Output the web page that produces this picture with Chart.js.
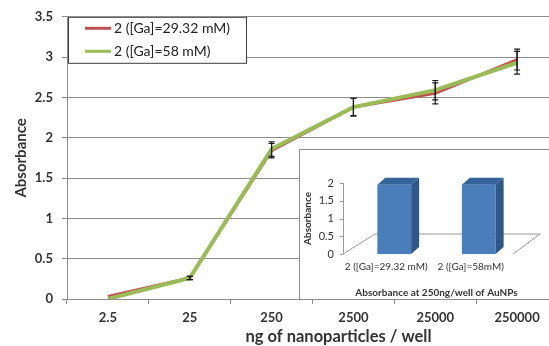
<!DOCTYPE html>
<html>
<head>
<meta charset="utf-8">
<script src="https://cdn.jsdelivr.net/npm/chart.js@4.4.0/dist/chart.umd.min.js"></script>
<style>
  html, body { margin: 0; padding: 0; background: #fff; overflow: hidden; }
  #wrap { position: relative; width: 549px; height: 346px; overflow: hidden; }
  #main { position: absolute; left: 0; top: 0; }
  #inset { position: absolute; left: 299px; top: 149px; width: 270px; height: 151px; border: 1px solid #8c8c8c; box-sizing: border-box; background: #fff; }
  #insetChart { position: absolute; left: 0; top: 0; }
</style>
</head>
<body>
<div id="wrap">
  <canvas id="main" width="560" height="346"></canvas>
  <div id="inset"><canvas id="insetChart" width="268" height="149"></canvas></div>
</div>
<script>
// main chart data
const categories = ['2.5', '25', '250', '2500', '25000', '250000'];
const gaLow = [0.03, 0.26, 1.84, 2.38, 2.55, 2.97];   // [Ga]=29.32 mM
const gaHigh = [0.0, 0.26, 1.86, 2.38, 2.59, 2.93];   // [Ga]=58 mM
const gaLowErr = [0, 0.02, 0.09, 0.11, 0.13, 0.13];
const gaHighErr = [0, 0.02, 0.09, 0.11, 0.12, 0.14];
const yMax = 3.5;
const yStep = 0.5;
const xTitle = 'ng of nanoparticles / well';

// inset data
const insetLabels = ['2 ([Ga]=29.32 mM)', '2 ([Ga]=58mM)'];
const insetValues = [1.95, 1.95];
const insetMax = 2;

const FONT = 'Lato, "Open Sans", sans-serif';
const TEXT = '#333333';
const GRID = '#8c8c8c';
Chart.defaults.font.family = FONT;
Chart.defaults.color = TEXT;

// plain number labels: 0, 0.5, 1, 1.5 ...
const plainTick = v => String(+v.toFixed(2));

// error bars drawn from dataset.errors
const errorBars = {
    id: 'errorBars',
    afterDatasetsDraw(chart) {
        const ctx = chart.ctx;
        const y = chart.scales.y;
        ctx.save();
        ctx.strokeStyle = '#1a1a1a';
        ctx.lineWidth = 1.2;
        chart.data.datasets.forEach((ds, i) => {
            if (!ds.errors) return;
            chart.getDatasetMeta(i).data.forEach((pt, j) => {
                const e = ds.errors[j];
                if (!e) return;
                const top = y.getPixelForValue(ds.data[j] + e);
                const bot = y.getPixelForValue(ds.data[j] - e);
                ctx.beginPath();
                ctx.moveTo(pt.x, top); ctx.lineTo(pt.x, bot);
                ctx.moveTo(pt.x - 3, top); ctx.lineTo(pt.x + 3, top);
                ctx.moveTo(pt.x - 3, bot); ctx.lineTo(pt.x + 3, bot);
                ctx.stroke();
            });
        });
        ctx.restore();
    }
};

// boxed legend in the top left corner of the plot
const boxLegend = {
    id: 'boxLegend',
    afterDraw(chart) {
        const { ctx, chartArea } = chart;
        const x = chartArea.left + 1, top = chartArea.top, w = 178, h = 46;
        ctx.save();
        ctx.fillStyle = '#fff';
        ctx.fillRect(x, top, w, h);
        ctx.strokeStyle = '#3c3c3c';
        ctx.lineWidth = 1;
        ctx.strokeRect(x + 0.5, top + 0.5, w, h);
        ctx.font = '14px ' + FONT;
        ctx.textBaseline = 'middle';
        chart.data.datasets.forEach((ds, i) => {
            const ly = top + 11.5 + i * 23;
            ctx.strokeStyle = ds.borderColor;
            ctx.lineWidth = 3;
            ctx.beginPath();
            ctx.moveTo(x + 17, ly);
            ctx.lineTo(x + 43, ly);
            ctx.stroke();
            ctx.fillStyle = '#222';
            ctx.fillText(ds.label, x + 46, ly);
        });
        ctx.restore();
    }
};

// x axis title, sits a little right of the plot centre like the original
const axisTitle = {
    id: 'axisTitle',
    afterDraw(chart) {
        const { ctx } = chart;
        const s = chart.scales.x;
        ctx.save();
        ctx.font = 'bold 16.5px ' + FONT;
        ctx.fillStyle = TEXT;
        ctx.textAlign = 'center';
        ctx.textBaseline = 'middle';
        ctx.fillText(xTitle, (s.left + s.right) / 2 + 26, s.bottom - 9);
        ctx.restore();
    }
};

new Chart(document.getElementById('main'), {
    type: 'line',
    data: {
        labels: categories,
        datasets: [
            {
                label: '2 ([Ga]=29.32 mM)',
                data: gaLow,
                errors: gaLowErr,
                borderColor: '#c0504d',
                borderWidth: 3,
                pointRadius: 0,
                tension: 0,
                order: 1
            },
            {
                label: '2 ([Ga]=58 mM)',
                data: gaHigh,
                errors: gaHighErr,
                borderColor: '#9bbb59',
                borderWidth: 4,
                pointRadius: 0,
                tension: 0,
                order: 0
            }
        ]
    },
    options: {
        responsive: false,
        animation: false,
        layout: { padding: { top: 14, right: 2, left: 0, bottom: 0 } },
        plugins: { legend: { display: false }, tooltip: { enabled: false } },
        scales: {
            x: {
                offset: true,
                afterFit(scale) { scale.height = 47; },
                grid: { offset: true, drawOnChartArea: false, drawTicks: true, tickLength: 5, color: GRID },
                border: { color: GRID },
                ticks: { font: { size: 13, weight: 'bold' }, padding: 6, color: TEXT, maxRotation: 0 }
            },
            y: {
                min: 0,
                max: yMax,
                afterFit(scale) { scale.width = 67; },
                grid: { color: GRID, tickLength: 5 },
                border: { color: GRID },
                ticks: { stepSize: yStep, font: { size: 13, weight: 'bold' }, padding: 9, color: TEXT, callback: plainTick },
                title: {
                    display: true,
                    text: 'Absorbance',
                    font: { size: 15, weight: 'bold', lineHeight: 1.2 },
                    padding: { top: 12, bottom: 0 },
                    color: TEXT
                }
            }
        }
    },
    plugins: [errorBars, boxLegend, axisTitle]
});

// 3D look for the inset: floor, axis line, side and top faces
const bars3d = {
    id: 'bars3d',
    beforeDatasetsDraw(chart) {
        const { ctx, chartArea, scales } = chart;
        const y0 = scales.y.getPixelForValue(0);
        const fl = chartArea.left - 9, fr = chartArea.right - 8;
        ctx.save();
        ctx.strokeStyle = '#9a9a9a';
        ctx.lineWidth = 1;
        ctx.beginPath();
        ctx.moveTo(fl, y0);
        ctx.lineTo(fl + 32, y0 - 20);
        ctx.lineTo(fr + 27, y0 - 20);
        ctx.lineTo(fr, y0);
        ctx.stroke();
        // value axis
        ctx.beginPath();
        ctx.moveTo(fl + 0.5, y0);
        ctx.lineTo(fl + 0.5, scales.y.getPixelForValue(insetMax));
        scales.y.ticks.forEach(t => {
            const ty = Math.round(scales.y.getPixelForValue(t.value)) + 0.5;
            ctx.moveTo(fl - 3, ty);
            ctx.lineTo(fl + 0.5, ty);
        });
        ctx.stroke();
        ctx.restore();
    },
    afterDatasetsDraw(chart) {
        const ctx = chart.ctx;
        const dx = 8, dy = -7;
        ctx.save();
        chart.getDatasetMeta(0).data.forEach(bar => {
            const { x, y, base, width } = bar.getProps(['x', 'y', 'base', 'width'], true);
            const l = x - width / 2, r = x + width / 2;
            ctx.fillStyle = '#2f5888';
            ctx.beginPath();
            ctx.moveTo(r, y); ctx.lineTo(r + dx, y + dy);
            ctx.lineTo(r + dx, base + dy); ctx.lineTo(r, base);
            ctx.closePath(); ctx.fill();
            ctx.fillStyle = '#34649b';
            ctx.beginPath();
            ctx.moveTo(l, y); ctx.lineTo(l + dx, y + dy);
            ctx.lineTo(r + dx, y + dy); ctx.lineTo(r, y);
            ctx.closePath(); ctx.fill();
        });
        ctx.restore();
    }
};

new Chart(document.getElementById('insetChart'), {
    type: 'bar',
    data: {
        labels: insetLabels,
        datasets: [{
            data: insetValues,
            backgroundColor: '#4a7ebb',
            barPercentage: 0.4,
            categoryPercentage: 1
        }]
    },
    options: {
        responsive: false,
        animation: false,
        layout: { padding: { top: 33, right: 47, left: 0, bottom: 0 } },
        plugins: { legend: { display: false }, tooltip: { enabled: false } },
        scales: {
            x: {
                afterFit(scale) { scale.height = 45; },
                grid: { display: false, drawTicks: false },
                border: { display: false },
                ticks: { font: { size: 10 }, padding: 7, labelOffset: -8, maxRotation: 0, autoSkip: false, color: TEXT },
                title: {
                    display: true,
                    text: 'Absorbance at 250ng/well of AuNPs',
                    font: { size: 10, weight: 'bold', lineHeight: 1.2 },
                    padding: { top: 0, bottom: 0 },
                    color: TEXT
                }
            },
            y: {
                min: 0,
                max: insetMax,
                afterFit(scale) { scale.width = 52; },
                grid: { display: false, drawTicks: false },
                border: { display: false },
                ticks: { stepSize: 0.5, font: { size: 11 }, padding: 18, color: TEXT, callback: plainTick },
                title: {
                    display: true,
                    text: 'Absorbance',
                    font: { size: 10, weight: 'bold', lineHeight: 1.2 },
                    padding: { top: 2, bottom: 0 },
                    color: TEXT
                }
            }
        }
    },
    plugins: [bars3d]
});
</script>
</body>
</html>
